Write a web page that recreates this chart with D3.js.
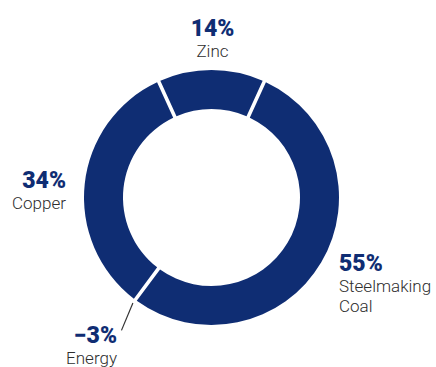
<!DOCTYPE html>
<html>
<head>
<meta charset="utf-8">
<script src="https://cdn.jsdelivr.net/npm/d3@7"></script>
<style>
  html, body { margin: 0; padding: 0; background: #fff; }
  svg { display: block; }
  .pct { font-family: Roboto, "Liberation Sans", Arial, sans-serif; font-weight: 900; fill: #0f2d73; }
  .lbl { font-family: Roboto, "Liberation Sans", Arial, sans-serif; font-weight: 300; fill: #2e2e2e; }
</style>
</head>
<body>
<svg id="chart" width="436" height="367"></svg>
<script>
// Share of gross profit by business unit
const categories = ["Zinc", "Steelmaking Coal", "Copper", "Energy"];
const shares = [14, 55, 34, -3];
const shareLabels = ["14%", "55%", "34%", "\u22123%"];
const nameLines = [["Zinc"], ["Steelmaking", "Coal"], ["Copper"], ["Energy"]];

const W = 436, H = 367;
const cx = 211.5, cy = 197.5;
const outerR = 127.5, innerR = 88.5;
const navy = "#0f2d73";

const svg = d3.select("#chart");
const g = svg.append("g").attr("transform", `translate(${cx},${cy})`);

const rows = categories.map((c, i) => ({ name: c, value: shares[i], idx: i }));
const positiveTotal = d3.sum(shares, v => Math.max(0, v));
// Zinc is centred at 12 o'clock
const start = -Math.PI * Math.max(0, shares[0]) / positiveTotal;

const pie = d3.pie()
  .sort(null)
  .value(d => Math.max(0, d.value))
  .startAngle(start)
  .endAngle(start + 2 * Math.PI);

// Energy (negative) sits as an empty slice between Coal and Copper
const order = [0, 1, 3, 2];
const arcs = pie(order.map(i => rows[i]));

const arc = d3.arc()
  .innerRadius(innerR)
  .outerRadius(outerR)
  .padRadius(outerR)
  .padAngle(3.6 / outerR);

g.selectAll("path.slice")
  .data(arcs.filter(a => a.data.value > 0))
  .join("path")
  .attr("class", "slice")
  .attr("d", arc)
  .attr("fill", navy);

// Leader line for the negative segment
const energy = arcs.find(a => a.data.name === "Energy");
const ang = energy.startAngle;
const polar = (r, a) => [r * Math.sin(a), -r * Math.cos(a)];
const p1 = polar(outerR + 4, ang);
const p2 = polar(outerR + 33, ang - 0.045);
g.append("line")
  .attr("x1", p1[0]).attr("y1", p1[1])
  .attr("x2", p2[0]).attr("y2", p2[1])
  .attr("stroke", "#333")
  .attr("stroke-width", 1.2);

// Label anchors per category
const labelPos = [
  { x: 212.5, y: 36, anchor: "middle" },
  { x: 339, y: 271, anchor: "start" },
  { x: 66, y: 188, anchor: "end" },
  { x: 117, y: 343, anchor: "end" }
];

categories.forEach((c, i) => {
  const p = labelPos[i];
  const t = svg.append("g");
  t.append("text")
    .attr("class", "pct")
    .attr("x", p.x).attr("y", p.y)
    .attr("text-anchor", p.anchor)
    .attr("font-size", 23)
    .text(shareLabels[i]);
  nameLines[i].forEach((line, k) => {
    t.append("text")
      .attr("class", "lbl")
      .attr("x", p.x).attr("y", p.y + 21 + k * 19.5)
      .attr("text-anchor", p.anchor)
      .attr("font-size", 17)
      .text(line);
  });
});
</script>
</body>
</html>
